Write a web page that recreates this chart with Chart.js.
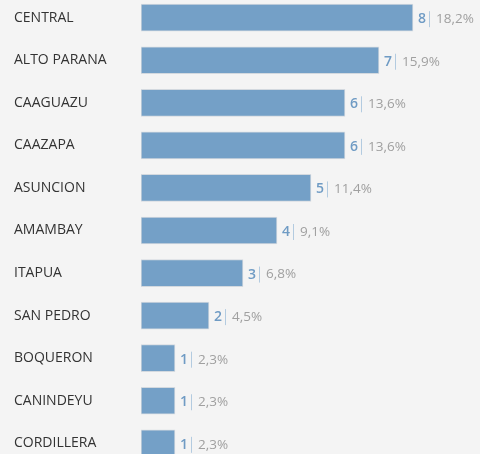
<!DOCTYPE html>
<html>
<head>
<meta charset="utf-8">
<script src="https://cdn.jsdelivr.net/npm/chart.js@4.4.0/dist/chart.umd.min.js"></script>
<style>
  html, body { margin: 0; padding: 0; background: #f4f4f4; overflow: hidden; }
  #wrap { position: absolute; left: 0; top: -15px; width: 480px; height: 491px; }
</style>
</head>
<body>
<div id="wrap"><canvas id="grafica"></canvas></div>
<script>
const departamentos = ['CENTRAL', 'ALTO PARANA', 'CAAGUAZU', 'CAAZAPA', 'ASUNCION', 'AMAMBAY',
  'ITAPUA', 'SAN PEDRO', 'BOQUERON', 'CANINDEYU', 'CORDILLERA'];
const cantidades = [8, 7, 6, 6, 5, 4, 3, 2, 1, 1, 1];
const porcentajes = ['18,2%', '15,9%', '13,6%', '13,6%', '11,4%', '9,1%', '6,8%', '4,5%', '2,3%', '2,3%', '2,3%'];

const fuente = '"Open Sans", "Noto Sans", sans-serif';

// etiquetas "n | xx,x%" al final de cada barra
const etiquetasFinales = {
  id: 'etiquetasFinales',
  afterDatasetsDraw(chart) {
    const ctx = chart.ctx;
    const meta = chart.getDatasetMeta(0);
    ctx.save();
    ctx.textBaseline = 'middle';
    ctx.textAlign = 'left';
    meta.data.forEach((bar, i) => {
      let x = bar.x + 5;
      const y = bar.y + 1.5;
      ctx.font = '600 14px ' + fuente;
      ctx.fillStyle = '#6f9bc4';
      const num = String(cantidades[i]);
      ctx.fillText(num, x, y);
      x += ctx.measureText(num).width + 3;
      ctx.strokeStyle = '#b3cbe0';
      ctx.lineWidth = 1;
      ctx.beginPath();
      ctx.moveTo(Math.round(x) + 0.5, y - 8);
      ctx.lineTo(Math.round(x) + 0.5, y + 8);
      ctx.stroke();
      x += 7;
      ctx.font = '13.5px ' + fuente;
      ctx.fillStyle = '#a0a0a0';
      ctx.fillText(porcentajes[i], x, y);
    });
    ctx.restore();
  }
};

new Chart(document.getElementById('grafica'), {
  type: 'bar',
  data: {
    labels: departamentos,
    datasets: [{
      data: cantidades,
      backgroundColor: '#74a0c7',
      borderColor: '#d3d9df',
      borderWidth: 1,
      borderSkipped: false,
      barThickness: 27
    }]
  },
  options: {
    indexAxis: 'y',
    responsive: true,
    maintainAspectRatio: false,
    animation: false,
    layout: { padding: { left: 14, right: 16, top: 0, bottom: 0 } },
    plugins: { legend: { display: false }, tooltip: { enabled: false } },
    scales: {
      x: { display: false, min: 0, max: 9.5 },
      y: {
        grid: { display: false },
        border: { display: false },
        ticks: {
          crossAlign: 'far',
          color: '#333333',
          font: { family: fuente, size: 14 }
        },
        afterFit(scale) { scale.width = 127; }
      }
    }
  },
  plugins: [etiquetasFinales]
});
</script>
</body>
</html>
